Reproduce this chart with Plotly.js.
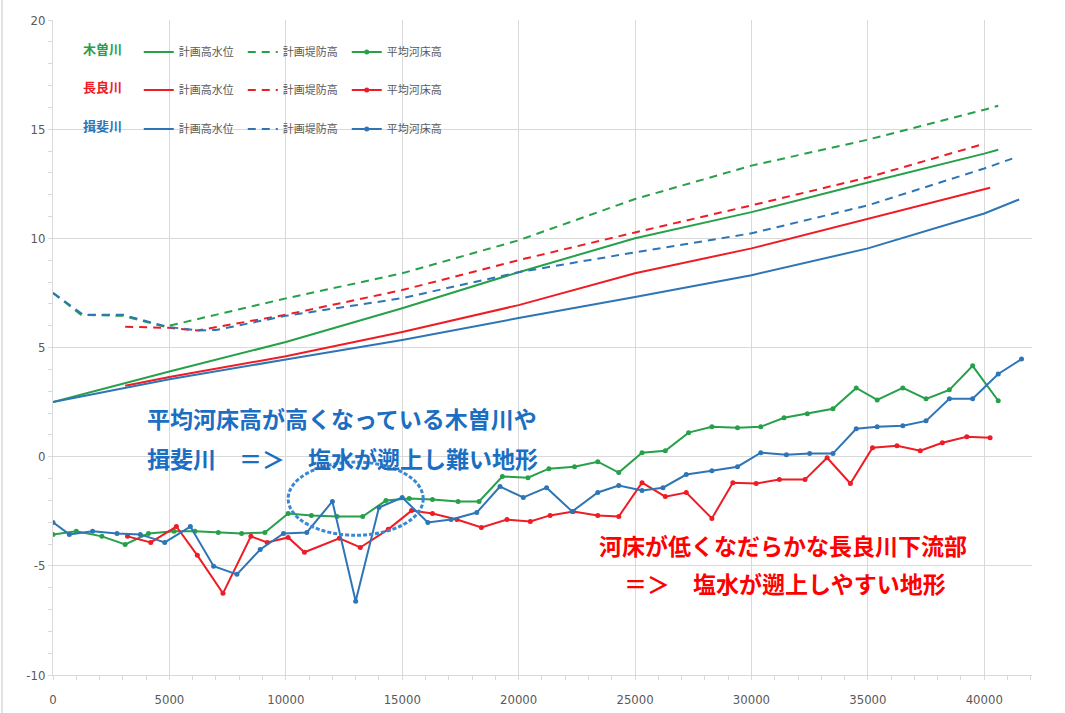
<!DOCTYPE html>
<html>
<head>
<meta charset="utf-8">
<script src="https://cdn.plot.ly/plotly-3.0.1.min.js"></script>
<style>html,body{margin:0;padding:0;background:#fff;}#chart{width:1065px;height:713px;}</style>
</head>
<body>
<div id="chart"></div>
<script>
// ---- data (distance in m, elevation in m) ----
const rivers = ['木曽川', '長良川', '揖斐川'];
const seriesNames = ['計画高水位', '計画堤防高', '平均河床高'];

// 木曽川
const kisoHwlX = [0, 5000, 10000, 15000, 20000, 25000, 30000, 35000, 40000, 40600];
const kisoHwlY = [2.5, 3.9, 5.25, 6.8, 8.45, 10.0, 11.2, 12.56, 13.88, 14.06];
const kisoDikeX = [0, 1200, 3000, 4800, 10000, 15000, 20000, 25000, 30000, 35000, 40000, 40600];
const kisoDikeY = [7.5, 6.5, 6.45, 5.95, 7.25, 8.4, 9.91, 11.8, 13.33, 14.52, 15.89, 16.07];
const kisoBedX = [0, 1000, 2100, 3100, 4100, 5200, 6100, 7100, 8100, 9100, 10100, 11100, 12200, 13300, 14300, 15300, 16300, 17400, 18300, 19300, 20400, 21300, 22400, 23400, 24300, 25300, 26300, 27300, 28300, 29400, 30400, 31400, 32400, 33500, 34500, 35400, 36500, 37500, 38500, 39500, 40600];
const kisoBedY = [-3.56, -3.42, -3.65, -4.02, -3.52, -3.42, -3.42, -3.47, -3.52, -3.47, -2.60, -2.69, -2.74, -2.74, -2.01, -1.92, -1.96, -2.05, -2.05, -0.91, -0.96, -0.55, -0.46, -0.23, -0.73, 0.18, 0.27, 1.10, 1.37, 1.32, 1.37, 1.78, 1.96, 2.19, 3.15, 2.60, 3.15, 2.65, 3.06, 4.16, 2.56];

// 長良川
const nagaraHwlX = [3100, 5000, 10000, 15000, 20000, 25000, 30000, 35000, 40000, 40250];
const nagaraHwlY = [3.25, 3.65, 4.6, 5.71, 6.94, 8.40, 9.54, 10.91, 12.25, 12.32];
const nagaraDikeX = [3100, 5000, 6200, 10000, 15000, 20000, 25000, 30000, 35000, 40000];
const nagaraDikeY = [5.95, 5.9, 5.78, 6.5, 7.63, 9.0, 10.27, 11.51, 12.79, 14.33];
const nagaraBedX = [3200, 4200, 5300, 6200, 7300, 8500, 9200, 10100, 10800, 12300, 13200, 14400, 15400, 16300, 17350, 18400, 19500, 20500, 21350, 22350, 23400, 24300, 25300, 26300, 27200, 28300, 29200, 30200, 31200, 32300, 33250, 34250, 35200, 36250, 37250, 38200, 39250, 40250];
const nagaraBedY = [-3.65, -3.93, -3.20, -4.52, -6.26, -3.65, -3.93, -3.70, -4.38, -3.74, -4.16, -3.33, -2.47, -2.60, -2.88, -3.24, -2.88, -2.97, -2.69, -2.51, -2.69, -2.74, -1.19, -1.83, -1.64, -2.83, -1.19, -1.23, -1.05, -1.05, -0.05, -1.23, 0.41, 0.50, 0.27, 0.64, 0.91, 0.87];

// 揖斐川
const ibiHwlX = [0, 5000, 10000, 15000, 20000, 25000, 30000, 35000, 40000, 41500];
const ibiHwlY = [2.5, 3.55, 4.45, 5.34, 6.35, 7.31, 8.31, 9.54, 11.14, 11.78];
const ibiDikeX = [0, 1300, 3000, 4900, 6200, 7000, 10000, 15000, 20000, 25000, 30000, 35000, 40000, 41200];
const ibiDikeY = [7.5, 6.5, 6.5, 5.95, 5.78, 5.8, 6.45, 7.26, 8.45, 9.36, 10.23, 11.51, 13.2, 13.65];
const ibiBedX = [0, 700, 1700, 2750, 3750, 4800, 5900, 6900, 7900, 8900, 9900, 10900, 12000, 13000, 14000, 15000, 16100, 17100, 18200, 19200, 20200, 21200, 22300, 23400, 24300, 25300, 26200, 27200, 28300, 29400, 30400, 31500, 32500, 33500, 34500, 35400, 36500, 37500, 38500, 39500, 40600, 41600];
const ibiBedY = [-3.01, -3.56, -3.42, -3.52, -3.56, -3.93, -3.20, -5.02, -5.39, -4.25, -3.52, -3.47, -2.05, -6.62, -2.33, -1.87, -3.01, -2.88, -2.56, -1.37, -1.87, -1.42, -2.51, -1.64, -1.32, -1.55, -1.42, -0.82, -0.64, -0.46, 0.18, 0.09, 0.14, 0.14, 1.28, 1.37, 1.42, 1.64, 2.65, 2.65, 3.79, 4.47];

const xTicks = [0, 5000, 10000, 15000, 20000, 25000, 30000, 35000, 40000];
const yTicks = [-10, -5, 0, 5, 10, 15, 20];

const note1 = ['平均河床高が高くなっている木曽川や', '揖斐川　＝＞　塩水が遡上し難い地形'];
const note2 = ['河床が低くなだらかな長良川下流部', '＝＞　塩水が遡上しやすい地形'];

// ---- styles ----
const colors = ['#27a04a', '#ee1c25', '#2e75b6'];
const noteBlue = '#1b6ec2';
const grid = '#d9d9d9';
const numFont = 'Liberation Sans Narrow, DejaVu Sans Condensed, Liberation Sans, sans-serif';
const jpFont = 'Noto Sans CJK JP, sans-serif';

const sets = [
  [kisoHwlX, kisoHwlY, kisoDikeX, kisoDikeY, kisoBedX, kisoBedY],
  [nagaraHwlX, nagaraHwlY, nagaraDikeX, nagaraDikeY, nagaraBedX, nagaraBedY],
  [ibiHwlX, ibiHwlY, ibiDikeX, ibiDikeY, ibiBedX, ibiBedY]
];
const legendIds = ['legend', 'legend2', 'legend3'];

const traces = [];
sets.forEach((s, i) => {
  traces.push({x: s[0], y: s[1], mode: 'lines', name: seriesNames[0], legend: legendIds[i],
    line: {color: colors[i], width: 2}});
  traces.push({x: s[2], y: s[3], mode: 'lines', name: seriesNames[1], legend: legendIds[i],
    line: {color: colors[i], width: 2, dash: '8px,6px'}});
});
sets.forEach((s, i) => {
  traces.push({x: s[4], y: s[5], mode: 'lines+markers', name: seriesNames[2], legend: legendIds[i],
    line: {color: colors[i], width: 2}, marker: {color: colors[i], size: 5}});
});
traces.forEach(t => { t.legendrank = seriesNames.indexOf(t.name) + 1; });

const plotL = 53, plotR = 1032, plotT = 20, plotB = 675;
const pw = plotR - plotL, ph = plotB - plotT;
const rowY = [52, 90, 129];

function mkLegend(i) {
  return {
    x: (81 - plotL) / pw, xanchor: 'left',
    y: (plotB - rowY[i]) / ph, yanchor: 'middle',
    orientation: 'h', bgcolor: 'rgba(255,255,255,0)', borderwidth: 0,
    itemwidth: 30, entrywidth: 59, tracegroupgap: 0,
    font: {family: jpFont, size: 11, color: '#595959'},
    title: {text: '<b>' + rivers[i] + '</b>&nbsp;&nbsp;&nbsp;', side: 'left', font: {family: jpFont, size: 13, color: colors[i]}}
  };
}

const annotations = [];
function note(text, xPix, yPix, color) {
  annotations.push({
    text: '<b>' + text + '</b>', xref: 'paper', yref: 'paper',
    x: (xPix - plotL) / pw, y: (plotB - yPix) / ph, xanchor: 'left', yanchor: 'middle',
    showarrow: false, font: {family: jpFont, size: 23, color: color}
  });
}
note(note1[0], 145, 418, noteBlue);
note(note1[1], 145, 458, noteBlue);
note(note2[0], 597, 545, '#ff0000');
note(note2[1], 622, 583, '#ff0000');

const layout = {
  width: 1065, height: 713,
  margin: {l: plotL, r: 1065 - plotR, t: plotT, b: 713 - plotB},
  paper_bgcolor: '#ffffff', plot_bgcolor: '#ffffff',
  showlegend: true,
  legend: mkLegend(0), legend2: mkLegend(1), legend3: mkLegend(2),
  xaxis: {
    range: [0, 42050], tickvals: xTicks, ticktext: xTicks.map(String),
    showgrid: true, gridcolor: grid, gridwidth: 1, zeroline: false,
    showline: true, linecolor: grid, linewidth: 1,
    ticks: 'outside', ticklen: 4, tickcolor: grid,
    minor: {dtick: 1000, tick0: 0, ticks: 'outside', ticklen: 4, tickcolor: grid, showgrid: false},
    ticklabelstandoff: 8,
    tickfont: {family: numFont, size: 13, color: '#595959'}
  },
  yaxis: {
    range: [-10, 20], tickvals: yTicks, ticktext: yTicks.map(String),
    showgrid: true, gridcolor: grid, gridwidth: 1, zeroline: false,
    showline: true, linecolor: grid, linewidth: 1,
    ticks: 'outside', ticklen: 4, tickcolor: grid,
    minor: {dtick: 1, tick0: 0, ticks: 'outside', ticklen: 4, tickcolor: grid, showgrid: false},
    tickfont: {family: numFont, size: 13, color: '#595959'}
  },
  annotations: annotations,
  shapes: [
    {type: 'rect', xref: 'paper', yref: 'paper', layer: 'between',
     x0: (73 - plotL) / pw, x1: (452 - plotL) / pw, y0: (plotB - 152) / ph, y1: (plotB - 25) / ph,
     fillcolor: '#ffffff', line: {width: 0}},
    {type: 'circle', xref: 'x', yref: 'y', layer: 'above',
     x0: 10100, x1: 15900, y0: -3.6, y1: -0.25,
     line: {color: '#3a87d6', width: 3, dash: '4px,2px'}},
    {type: 'line', xref: 'paper', yref: 'paper',
     x0: (2 - plotL) / pw, x1: (2 - plotL) / pw, y0: (plotB - 713) / ph, y1: (plotB - 0) / ph,
     line: {color: '#c8c8c8', width: 1}}
  ]
};

Plotly.newPlot('chart', traces, layout, {displayModeBar: false, responsive: false});
</script>
</body>
</html>
